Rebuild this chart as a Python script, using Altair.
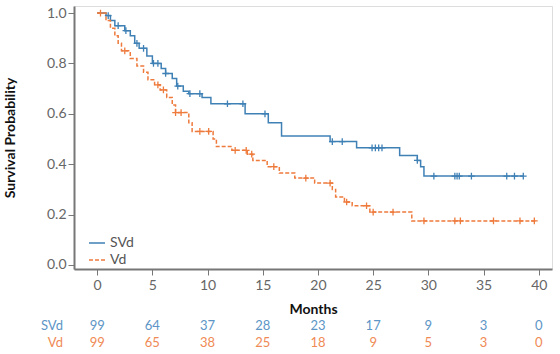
import altair as alt
import pandas as pd

# ---- data ----
series_names = ["SVd", "Vd"]

svd_t = [0, 0.8, 1.2, 1.6, 2.5, 3.0, 3.4, 3.8, 4.5, 5.0, 5.8, 6.2, 6.8, 7.2, 7.8, 8.3,
         9.5, 10.3, 13.4, 15.5, 16.7, 21.1, 23.5, 27.4, 29.0, 29.3, 29.6, 38.6]
svd_s = [1.0, 0.99, 0.97, 0.95, 0.93, 0.91, 0.88, 0.86, 0.83, 0.80, 0.78, 0.76, 0.74, 0.71,
         0.69, 0.68, 0.665, 0.64, 0.60, 0.565, 0.512, 0.49, 0.465, 0.435, 0.415, 0.39, 0.353, 0.353]
svd_cens = [1.0, 1.9, 2.6, 3.6, 4.2, 5.1, 5.5, 6.2, 7.3, 8.4, 9.3, 11.8, 13.2, 15.2,
            21.3, 22.2, 24.9, 25.2, 25.5, 25.8, 29.0, 30.5, 32.4, 32.6, 32.8, 33.9, 37.1, 37.8, 38.6]

vd_t = [0, 0.8, 1.2, 1.6, 1.9, 2.2, 3.0, 3.6, 4.2, 4.6, 5.2, 5.7, 6.3, 6.8, 7.1, 8.3, 8.6,
        10.5, 10.8, 12.2, 13.6, 14.1, 15.4, 16.5, 17.9, 19.7, 21.3, 21.6, 22.4, 23.1, 24.7, 28.5, 39.7]
vd_s = [1.0, 0.97, 0.94, 0.91, 0.88, 0.85, 0.82, 0.79, 0.765, 0.735, 0.715, 0.695, 0.665, 0.635,
        0.605, 0.565, 0.53, 0.50, 0.47, 0.455, 0.44, 0.415, 0.39, 0.365, 0.345, 0.325, 0.30, 0.27,
        0.25, 0.235, 0.21, 0.175, 0.175]
vd_cens = [0.3, 2.5, 5.5, 6.0, 7.1, 7.6, 9.3, 10.1, 12.5, 13.5, 14.0, 16.0, 18.9, 21.1,
           22.6, 24.4, 25.0, 26.8, 29.6, 32.4, 32.9, 35.9, 38.3, 39.6]

risk_times = [0, 5, 10, 15, 20, 25, 30, 35, 40]
svd_risk = [99, 64, 37, 28, 23, 17, 9, 3, 0]
vd_risk = [99, 65, 38, 25, 18, 9, 5, 3, 0]

colors = ["#3f80b5", "#ee7a3c"]
text_colors = ["#5d95c6", "#f08a55"]


def surv_at(ts, ss, t):
    val = ss[0]
    for ti, si in zip(ts, ss):
        if ti <= t:
            val = si
    return val


curve = pd.DataFrame(
    [{"t": t, "s": s, "arm": "SVd"} for t, s in zip(svd_t, svd_s)]
    + [{"t": t, "s": s, "arm": "Vd"} for t, s in zip(vd_t, vd_s)]
)
cens = pd.DataFrame(
    [{"t": t, "s": surv_at(svd_t, svd_s, t), "arm": "SVd"} for t in svd_cens]
    + [{"t": t, "s": surv_at(vd_t, vd_s, t), "arm": "Vd"} for t in vd_cens]
)
risk = pd.DataFrame(
    [{"t": t, "n": str(n), "arm": "SVd"} for t, n in zip(risk_times, svd_risk)]
    + [{"t": t, "n": str(n), "arm": "Vd"} for t, n in zip(risk_times, vd_risk)]
)

FONT = "Lato"
W, H = 478, 263

xscale = alt.Scale(domain=[-2.1, 41.2], nice=False, zero=False)
yscale = alt.Scale(domain=[-0.016, 1.028], nice=False, zero=False)
cscale = alt.Scale(domain=series_names, range=colors)
text_scale = alt.Scale(domain=series_names, range=text_colors)

x_enc = alt.X("t:Q", scale=xscale,
              axis=alt.Axis(values=risk_times, title="Months", grid=False,
                            labelColor="#666", labelFontSize=14, labelFont=FONT,
                            titleFont=FONT, titleFontSize=14, titleFontWeight="bold",
                            titleColor="#111", titlePadding=10, tickSize=6,
                            tickColor="#777", domainColor="#777", domainWidth=2,
                            labelPadding=3))
y_enc = alt.Y("s:Q", scale=yscale,
              axis=alt.Axis(values=[0, 0.2, 0.4, 0.6, 0.8, 1.0], format=".1f",
                            title="Survival Probability", grid=False,
                            labelColor="#666", labelFontSize=14, labelFont=FONT,
                            titleFont=FONT, titleFontSize=14, titleFontWeight="bold",
                            titleColor="#111", titlePadding=29, tickSize=6,
                            tickColor="#777", domainColor="#777", domainWidth=2,
                            labelPadding=2))

lines = alt.Chart(curve).mark_line(interpolate="step-after", strokeWidth=1.5).encode(
    x=x_enc,
    y=y_enc,
    color=alt.Color("arm:N", scale=cscale, title=None,
                    legend=alt.Legend(orient="none", legendX=14, legendY=228,
                                      symbolType="stroke", symbolSize=256,
                                      symbolStrokeWidth=1.5, labelFont=FONT,
                                      labelFontSize=14, labelColor="#555",
                                      rowPadding=1, labelOffset=4)),
    strokeDash=alt.StrokeDash("arm:N", scale=alt.Scale(domain=series_names,
                                                       range=[[1, 0], [4, 2]]),
                              title=None),
)

marks = alt.Chart(cens).mark_point(
    shape="M0,-1V1M-1,0H1", filled=False, strokeWidth=1.3, size=45, opacity=1
).encode(
    x="t:Q", y="s:Q",
    color=alt.Color("arm:N", scale=cscale),
)

main = alt.layer(lines, marks)

row_scale = alt.Scale(domain=series_names, range=[320, 337], padding=0)

risk_nums = alt.Chart(risk).mark_text(font=FONT, fontSize=13, baseline="middle").encode(
    x=alt.X("t:Q", scale=xscale),
    y=alt.Y("arm:N", scale=row_scale, axis=None),
    fill=alt.Fill("arm:N", scale=text_scale, legend=None),
    text="n:N",
)

labels_df = pd.DataFrame({"arm": series_names})
risk_labels = alt.Chart(labels_df).mark_text(font=FONT, fontSize=13, baseline="middle",
                                             align="right").encode(
    x=alt.value(-11),
    y=alt.Y("arm:N", scale=row_scale, axis=None),
    fill=alt.Fill("arm:N", scale=text_scale, legend=None),
    text="arm:N",
)

risk_layer = alt.layer(risk_nums, risk_labels)

chart = alt.layer(main, risk_layer).resolve_scale(
    y="independent"
).properties(
    width=W, height=H,
    autosize=alt.AutoSizeParams(type="none"),
    padding={"left": 74, "top": 6, "right": 8, "bottom": 85},
).configure_view(
    stroke="#777", strokeWidth=2
).configure(background="white")

chart.save("out.html", embed_options={"renderer": "svg", "actions": False})
